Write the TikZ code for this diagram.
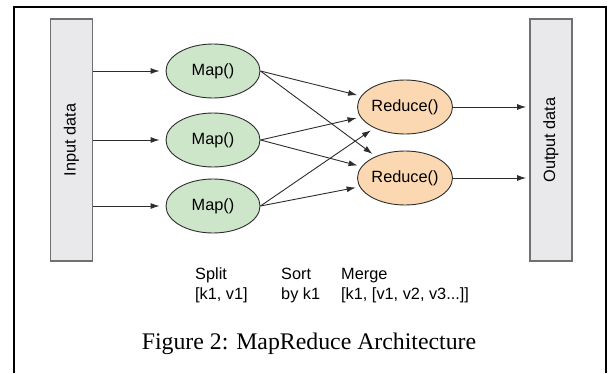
\documentclass[tikz,border=0pt]{standalone}
\usepackage{fontspec}
\setmainfont{Liberation Sans}
\newfontfamily\captionserif{Liberation Serif}
\usepackage{tikz}
\usetikzlibrary{shapes.geometric,arrows.meta}

\definecolor{mapgreen}{RGB}{205,230,202}
\definecolor{reducepeach}{RGB}{251,216,178}
\definecolor{boxgray}{RGB}{233,233,235}
\definecolor{edgegray}{RGB}{112,112,112}
\definecolor{linegray}{RGB}{45,45,45}

\begin{document}
\begin{tikzpicture}[x=1pt,y=-1pt,
  every node/.style={font=\fontsize{16.3}{20}\selectfont},
  databox/.style={draw=edgegray,line width=1.8pt,fill=boxgray,rotate=90,minimum width=242,minimum height=42,inner sep=0},
  mapnode/.style={ellipse,draw=linegray,line width=0.9pt,fill=mapgreen,minimum width=94,minimum height=54,inner sep=0},
  reducenode/.style={ellipse,draw=linegray,line width=0.9pt,fill=reducepeach,minimum width=95,minimum height=54,inner sep=0},
  steplabel/.style={anchor=base west,align=left,inner sep=0},
  flow/.style={draw=linegray,line width=0.9pt,-{Latex[length=9pt,width=6pt]}}]

\useasboundingbox (0,0) rectangle (608,373);

% frame
\draw [line width=1.8pt] (14,373) -- (14,7) -- (606,7) -- (606,373);

% data boxes (rotated, so south is the right side, north the left)
\node [databox] (inbox) at (71.5,140) {Input data};
\node [databox] (outbox) at (551,140) {Output data};

% map and reduce
\node [mapnode] (map1) at (213,71) {Map()};
\node [mapnode] (map2) at (213,140) {Map()};
\node [mapnode] (map3) at (213,206) {Map()};
\node [reducenode] (red1) at (405,107) {Reduce()};
\node [reducenode] (red2) at (405,178) {Reduce()};

% input to map
\draw [flow,shorten >=6pt] (map1 -| inbox.south) -- (map1);
\draw [flow,shorten >=6pt] (map2 -| inbox.south) -- (map2);
\draw [flow,shorten >=6pt] (map3 -| inbox.south) -- (map3);

% map to reduce
\draw [flow,shorten >=4pt] (map1.east) -- (red1);
\draw [flow,shorten >=4pt] (map1.east) -- (red2);
\draw [flow,shorten >=4pt] (map2.east) -- (red1);
\draw [flow,shorten >=4pt] (map2.east) -- (red2);
\draw [flow,shorten >=4pt] (map3.east) -- (red1);
\draw [flow,shorten >=4pt] (map3.east) -- (red2);

% reduce to output
\draw [flow,shorten >=3pt] (red1) -- (red1 -| outbox.north);
\draw [flow,shorten >=3pt] (red2) -- (red2 -| outbox.north);

% step labels (base = last line)
\node [steplabel] (split) at (195,299) {Split\\{[k1, v1]}};
\node [steplabel] (sort) at (281,299) {Sort\\by k1};
\node [steplabel] (merge) at (341,299) {Merge\\{[k1, [v1, v2, v3...]]}};

% caption
\node [anchor=base,inner sep=0,font=\captionserif\fontsize{23.8}{26}\selectfont] (caption) at (309,349) {Figure 2: MapReduce Architecture};

\end{tikzpicture}
\end{document}
